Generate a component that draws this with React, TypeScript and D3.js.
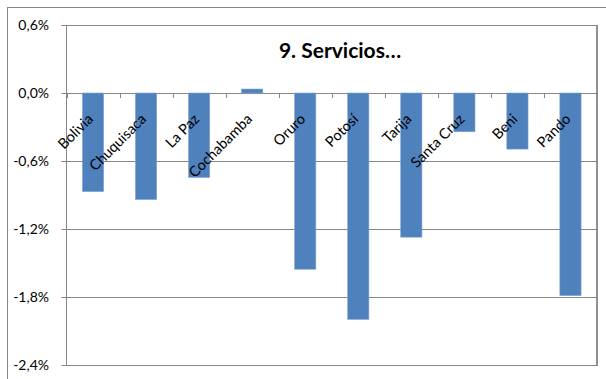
import React from "react";
import * as d3 from "d3";

const categories = ["Bolivia", "Chuquisaca", "La Paz", "Cochabamba", "Oruro", "Potosí", "Tarija", "Santa Cruz", "Beni", "Pando"];
const values = [-0.87, -0.94, -0.745, 0.035, -1.555, -1.997, -1.272, -0.342, -0.495, -1.788];
const yTicks = [0.6, 0, -0.6, -1.2, -1.8, -2.4];
const title = "9. Servicios…";

const W = 606, H = 379;
const plot = { left: 66.5, right: 597, top: 25, bottom: 365 };
const font = "Lato, 'Open Sans', sans-serif";

export default function App() {
  const x = d3.scaleBand<string>().domain(categories).range([plot.left, plot.right]).paddingInner(0.6).paddingOuter(0.3);
  const xb = d3.scaleLinear().domain([0, categories.length]).range([plot.left, plot.right]);
  const y = d3.scaleLinear().domain([-2.4, 0.6]).range([plot.bottom, plot.top]);
  const fmt = (v: number) => (v < 0 ? "-" : "") + Math.abs(v).toFixed(1).replace(".", ",") + "%";
  const y0 = y(0);
  return (
    <svg width={W} height={H} style={{ position: "absolute", left: 0, top: 0, background: "#fff" }}>
      <rect x={7.5} y={7.5} width={W + 10} height={H + 10} fill="#fff" stroke="#868686" />
      {yTicks.map((t) => (
        <g key={t}>
          <line x1={plot.left - 5} x2={plot.right} y1={Math.round(y(t)) + 0.5} y2={Math.round(y(t)) + 0.5} stroke="#868686" />
          <text x={49} y={y(t)} dy="0.35em" textAnchor="end" fontFamily={font} fontSize={14} fill="#000">{fmt(t)}</text>
        </g>
      ))}
      <line x1={plot.left} x2={plot.left} y1={plot.top} y2={plot.bottom} stroke="#868686" />
      <line x1={plot.right} x2={plot.right} y1={plot.top} y2={plot.bottom + 1} stroke="#6e6e6e" strokeWidth={1.5} />
      {d3.range(categories.length + 1).map((i) => (
        <line key={i} x1={Math.round(xb(i)) + 0.5} x2={Math.round(xb(i)) + 0.5} y1={y0} y2={y0 + 5} stroke="#868686" />
      ))}
      {categories.map((c, i) => {
        const v = values[i];
        const bx = x(c)!;
        return (
          <rect key={c} x={bx} width={x.bandwidth()} y={Math.min(y(v), y0)} height={Math.abs(y(v) - y0)} fill="#4F81BD" stroke="#7FA3D3" strokeWidth={0.6} />
        );
      })}
      {categories.map((c) => {
        const cx = x(c)! + x.bandwidth() / 2;
        const ax = cx + 1, ay = y0 + 27;
        return (
          <text key={c} x={ax} y={ay} textAnchor="end" fontFamily={font} fontSize={14.5} fill="#000" transform={`rotate(-45 ${ax} ${ay})`}>{c}</text>
        );
      })}
      <text x={340} y={58} textAnchor="middle" fontFamily={font} fontSize={21} fontWeight="bold" fill="#000">{title}</text>
    </svg>
  );
}
